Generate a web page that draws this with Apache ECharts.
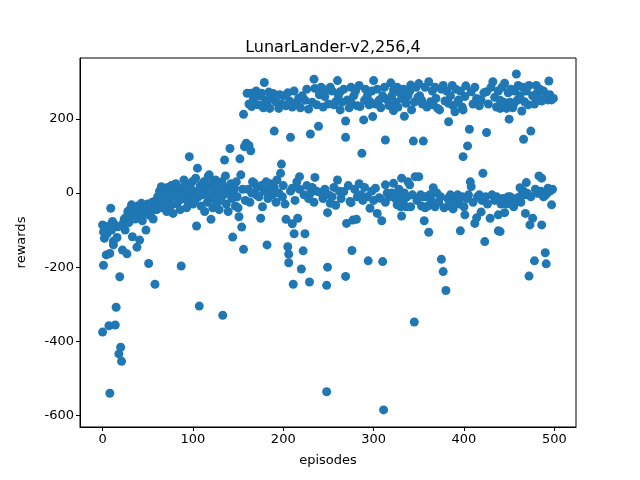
<!DOCTYPE html>
<html><head><meta charset="utf-8">
<script src="https://cdn.jsdelivr.net/npm/echarts@6/dist/echarts.min.js"></script>
<style>html,body{margin:0;padding:0;background:#fff}#c{width:640px;height:480px}</style>
</head><body><div id="c"></div>
<script>
const title = "LunarLander-v2,256,4";
const xTicks = [0, 100, 200, 300, 400, 500];
const yTicks = [-600, -400, -200, 0, 200];

const pts0 = [[0,-375],[1,-195],[0,-86],[2,-122],[4,-167],[7,-358],[8,-540],[8,-163],[9,-41],[11,-77],[14,-356],[15,-308],[17,-91],[18,-434],[19,-226],[20,-416],[21,-454],[22,-154],[3,-95],[5,-110],[6,-90],[10,-100],[12,-130],[13,-85],[16,-120],[23,-80],[24,-70],[25,-100],[12,-140],[1,-105],
[26,-65],[27,-164],[28,-50],[29,-80],[30,-45],[31,-60],[32,-32],[33,-118],[34,-55],[35,-40],[36,-70],[37,-48],[38,-146],[39,-35],[40,-62],[41,-127],[42,-50],[43,-28],[44,-75],[45,-40],[46,-55],[47,-35],[48,-100],[49,-45],[50,-30],[51,-190],[52,-60],[53,-38],[54,-50],[55,-25],[56,-70],[57,-40],[58,-246],[59,-20],[60,-45]];
const pts1 = [[61,-10],[62,-30],[63,5],[64,-15],[65,17],[66,-40],[67,-5],[68,10],[69,-25],[70,0],[71,-50],[72,15],[73,-20],[74,5],[75,-35],[76,20],[77,-10],[78,-55],[79,10],[80,-5],[81,25],[82,-30],[83,0],[84,15],[85,-20],[86,-45],[87,-197],[88,10],[89,-15],[90,35],[91,-5],[92,20],[93,-40],[94,0],[95,-25],[96,98],[97,15],[98,-10],[99,30],[100,-30]];
const pts2 = [[101,5],[102,-20],[103,40],[104,-89],[105,67],[106,-10],[107,-305],[108,20],[109,-35],[110,10],[111,-5],[112,30],[113,-50],[114,0],[115,15],[116,-25],[117,45],[118,49],[119,-15],[120,-71],[121,25],[122,-40],[123,5],[124,-10],[125,35],[126,-30],[127,0],[128,20],[129,-45],[130,10],[131,-20],[132,30],[133,-330],[134,-5],[135,89],[136,46],[137,-30],[138,15],[139,-50],[140,0],[141,120],[142,25],[143,-15],[144,-119],[145,5],[146,13],[147,-35],[148,30],[149,-10],[150,-40],[151,-64],[152,92],[153,49],[154,-92],[155,10],[156,212],[156,-152],[157,125],[158,-20],[159,134]];
const pts3 = [[160,269],[162,240],[164,269],[165,233],[167,255],[170,275],[172,238],[174,262],[176,269],[178,230],[179,298],[180,250],[182,242],[184,272],[185,228],[187,255],[189,268],[190,167],[192,245],[195,228],[196,265],[198,240],[200,262],[203,235],[205,270],[207,248],[208,150],[210,232],[212,275],[215,245],[217,255],[219,230],[221,262],[224,250],[226,280],[228,226],[230,159],[232,245],[234,307],[235,282],[237,238],[239,180],[240,265],[242,285],[244,232],[246,260],[248,278],[250,240],[252,285],
[162,128],[164,114],[197,53],[198,78],[218,44],[235,42],
[161,10],[163,-25],[165,0],[166,30],[168,26],[170,-5],[171,15],[173,-10],[175,-68],[176,20],[177,-37],[179,5],[181,30],[182,-140],[183,-15],[185,10],[186,25],[188,-5],[190,15],[192,-25],[193,35],[195,0],[199,-10],[200,20],[202,-30],[203,-71],[205,-145],[206,-165],[206,-188],[208,5],[210,13],[210,-83],[211,-246],[212,-110],[213,-20],[215,30],[216,-68],[218,10],[220,-205],[222,-156],[223,-5],[224,-110],[226,20],[228,-15],[229,-240],[230,-1],[232,15],[234,-25],[237,5],[241,1],[244,-15],[246,10],[248,-249],[248,-536],[249,-200],[249,-53],[250,-5],[252,-28]];
const pts4 = [[254,275],[256,238],[258,246],[260,303],[261,262],[263,273],[263,224],[265,245],[267,280],[269,194],[269,150],[271,251],[273,230],[275,285],[276,240],[278,262],[280,275],[282,235],[284,290],[285,233],[287,107],[289,197],[290,250],[291,280],[293,262],[295,238],[296,246],[298,275],[299,206],[300,303],[302,240],[304,280],[306,250],[308,230],[310,262],[312,285],[313,143],[315,251],[317,236],[319,297],[320,262],[322,222],[322,278],[324,245],[326,285],[327,232],[329,270],[331,255],[333,280],[334,207],[336,242],[338,262],[340,275],[341,291],[342,224],[344,140],[345,245],[347,285],[349,258],
[254,-10],[256,15],[258,-33],[260,35],[262,5],[264,-15],[267,4],[269,-225],[270,-82],[272,20],[274,-23],[275,-26],[276,-155],[277,-73],[279,10],[281,-71],[282,-10],[284,25],[286,-5],[288,-20],[290,15],[293,-10],[294,-183],[296,-41],[298,5],[300,-20],[302,13],[304,-55],[306,-13],[307,-14],[309,-75],[310,-185],[311,-585],[313,22],[313,-25],[315,0],[317,-10],[320,0],[322,26],[324,-15],[326,-5],[326,-32],[328,10],[330,-37],[331,40],[331,-62],[333,-20],[334,0],[336,-37],[337,-10],[338,30],[340,22],[341,-37],[343,-5],[345,-348],[346,44],[348,-20]];
const pts5 = [[350,295],[351,262],[353,251],[354,240],[355,140],[357,285],[359,232],[361,300],[363,246],[365,275],[366,238],[368,285],[369,255],[371,228],[373,224],[375,280],[377,290],[379,248],[381,275],[383,242],[383,192],[385,262],[387,290],[388,235],[390,219],[391,280],[393,245],[394,251],[396,275],[398,232],[399,224],[399,98],[401,260],[402,289],[404,127],[406,172],[408,273],[410,240],[412,285],[414,255],[417,235],[419,250],[421,53],[422,270],[425,273],[425,163],[427,240],[430,285],[432,300],[434,258],[436,232],[438,275],[440,228],[440,250],[442,285],[444,245],[445,296],[447,228],[448,240],[449,270],
[350,44],[352,-5],[353,-35],[355,-10],[356,-75],[357,-40],[358,-10],[360,-35],[361,-106],[362,-5],[364,-20],[366,14],[368,-37],[370,0],[372,-25],[374,-10],[375,-179],[377,-212],[378,-40],[380,-263],[382,-15],[384,-30],[385,-5],[386,-37],[388,-43],[389,-10],[391,-20],[393,-5],[395,-30],[396,-102],[398,-10],[400,-37],[401,-59],[403,-15],[405,-5],[407,30],[408,17],[410,-25],[412,-82],[414,-67],[415,-10],[417,-5],[419,-51],[420,-20],[423,-131],[424,-10],[426,-30],[429,-68],[431,-5],[434,-20],[436,-10],[438,-102],[438,-59],[440,-104],[441,-30],[443,-15],[445,-53],[447,-30],[449,-10]];
const pts6 = [[450,199],[451,245],[452,280],[454,230],[455,240],[456,275],[458,321],[459,250],[460,290],[462,262],[464,221],[465,285],[466,145],[467,246],[469,275],[471,238],[472,290],[474,167],[476,262],[478,240],[480,290],[481,270],[482,255],[484,280],[486,248],[488,275],[490,255],[493,251],[494,302],[495,265],[497,251],[499,255],
[451,-10],[452,-13],[454,-20],[455,-37],[457,-25],[459,-15],[460,-12],[462,14],[463,-25],[464,-5],[466,5],[468,-5],[468,-55],[469,28],[470,-1],[472,-224],[473,-86],[474,-10],[476,-68],[478,-183],[479,10],[481,0],[482,-1],[483,46],[485,5],[486,40],[486,-86],[488,-10],[490,-6],[490,-161],[491,-191],[492,0],[493,13],[495,5],[497,-32],[498,10]];

const points = [].concat(pts0, pts1, pts2, pts3, pts4, pts5, pts6);

const chart = echarts.init(document.getElementById('c'), null, {renderer: 'canvas'});
const font = 'DejaVu Sans';
chart.setOption({
  backgroundColor: '#fff',
  animation: false,
  title: {text: title, left: 328, top: 35, textAlign: 'center',
    textStyle: {fontFamily: font, fontSize: 16, fontWeight: 'normal', color: '#000'}},
  grid: {left: 80, right: 64, top: 58, bottom: 53, show: true, borderColor: '#000', borderWidth: 1, backgroundColor: '#fff'},
  xAxis: {type: 'value', min: -25, max: 524, name: 'episodes', nameLocation: 'middle', nameGap: 27,
    nameTextStyle: {fontFamily: font, fontSize: 13, color: '#000'},
    splitLine: {show: false},
    axisLine: {show: true, onZero: false, lineStyle: {color: '#000', width: 1}},
    axisTick: {show: true, inside: false, length: 4, lineStyle: {color: '#000'}, customValues: xTicks},
    axisLabel: {fontFamily: font, fontSize: 13, color: '#000', margin: 6, customValues: xTicks}},
  yAxis: {type: 'value', min: -631, max: 364, name: 'rewards', nameLocation: 'middle', nameGap: 52,
    nameTextStyle: {fontFamily: font, fontSize: 13, color: '#000'},
    splitLine: {show: false},
    axisLine: {show: true, onZero: false, lineStyle: {color: '#000', width: 1}},
    axisTick: {show: true, inside: false, length: 4, lineStyle: {color: '#000'}, customValues: yTicks},
    axisLabel: {fontFamily: font, fontSize: 13, color: '#000', margin: 6, customValues: yTicks}},
  series: [{type: 'scatter', data: points, symbolSize: 9, itemStyle: {color: '#1f77b4', opacity: 1}}]
});
</script></body></html>
